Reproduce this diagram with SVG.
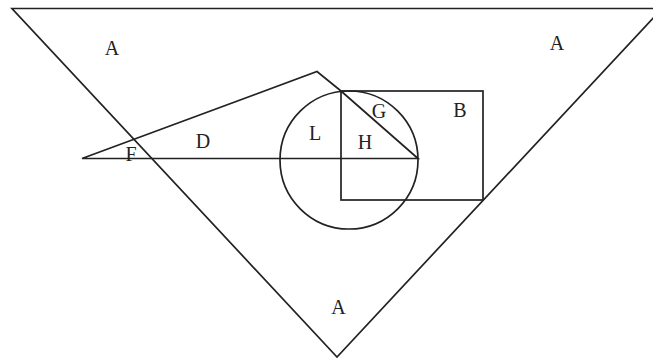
<svg xmlns="http://www.w3.org/2000/svg" width="653" height="360" viewBox="0 0 653 360">
<style>
.s{fill:none;stroke:#222;stroke-width:1.7;stroke-linejoin:miter}
.t{font-family:"Liberation Serif","DejaVu Serif",serif;font-size:20px;fill:#222;text-anchor:middle}
</style>
<rect width="653" height="360" fill="#fff"/>
<g id="shapes">
<polygon id="triangleA" class="s" points="12,8.5 662,8.5 337,357"/>
<polyline id="triangleD" class="s" points="341,91 317,71.5 82,158.5 418,158.5 341,91"/>
<circle id="circle" class="s" cx="349" cy="160" r="69"/>
<rect id="rectB" class="s" x="341" y="91" width="142" height="109"/>
</g>
<g id="labels">
<text class="t" x="112" y="55">A</text>
<text class="t" x="557" y="50">A</text>
<text class="t" x="338.5" y="314">A</text>
<text class="t" x="460" y="117">B</text>
<text class="t" x="379" y="118">G</text>
<text class="t" x="315" y="140">L</text>
<text class="t" x="365" y="149">H</text>
<text class="t" x="203" y="148">D</text>
<text class="t" x="131" y="161">F</text>
</g>
</svg>
